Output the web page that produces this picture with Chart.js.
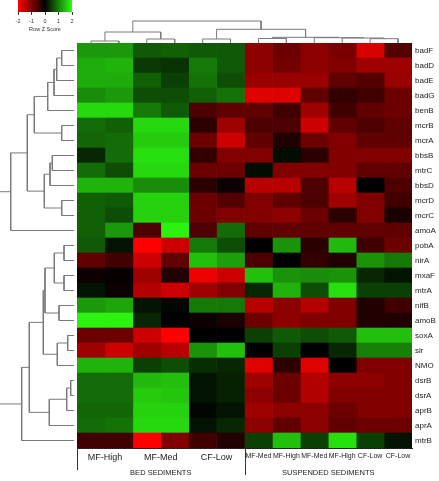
<!DOCTYPE html>
<html><head><meta charset="utf-8">
<script src="https://cdn.jsdelivr.net/npm/chart.js@4"></script>
<style>
html,body{margin:0;padding:0;background:#fff;}
body{width:439px;height:481px;position:relative;overflow:hidden;}
canvas{position:absolute;}
</style></head><body>
<canvas id="key" width="74" height="36" style="left:8px;top:0px"></canvas>
<canvas id="colDen" width="335" height="24" style="left:77px;top:19px"></canvas>
<canvas id="rowDen" width="74" height="405" style="left:0px;top:43px"></canvas>
<canvas id="heat" width="362" height="438" style="left:77px;top:43px"></canvas>
<script>
// ---- data ----
const genes = ['badF','badD','badE','badG','benB','mcrB','mcrA','bbsB','mtrC','bbsD','mcrD','mcrC','amoA',
  'pobA','nirA','mxaF','mtrA','nifB','amoB','soxA','sir','NMO','dsrB','dsrA','aprB','aprA','mtrB'];

// Row Z scores, one array per sample column (rows in gene order)
const bedMFHigh1 = [1.2,1.35,1.35,1.1,1.7,0.85,0.8,0.3,0.85,1.4,0.75,0.75,0.75,0.7,-0.75,-0.1,0.15,1.2,1.9,-0.85,-1.25,1.4,0.85,0.85,0.8,0.85,-0.5];
const bedMFHigh2 = [1.2,1.4,1.35,1.2,1.7,0.75,0.85,0.85,0.6,1.4,0.7,0.6,1.2,0.15,-0.5,-0.05,-0.1,1.3,1.9,-0.85,-1.6,1.4,0.85,0.85,0.8,0.9,-0.5];
const bedMFMed1  = [0.7,0.45,0.75,0.6,0.95,1.7,1.6,1.75,1.7,1.1,1.65,1.65,-0.6,-2.0,-1.6,-1.25,-1.4,0.15,0.3,-1.6,-1.25,0.5,1.45,1.6,1.65,1.7,-2.0];
const bedMFMed2  = [0.75,0.4,0.5,0.6,0.7,1.7,1.6,1.75,1.7,1.1,1.65,1.65,1.9,-1.6,-0.75,-0.25,-1.6,0.05,0,-2.0,-1.45,0.6,1.5,1.55,1.65,1.7,-1.0];
const bedCFLow1  = [0.7,0.95,0.9,0.75,-0.6,-0.35,-0.85,-0.4,-0.85,-0.35,-0.85,-0.85,-0.6,0.95,1.5,-1.85,-1.25,0.95,-0.1,0,1.15,0.35,0.15,0.15,0.05,0.15,-0.5];
const bedCFLow2  = [0.7,0.7,0.6,0.9,-0.75,-1.25,-1.6,-1.0,-0.85,-0.1,-0.65,-1.0,0.85,0.6,1.25,-1.6,-1.0,0.95,-0.2,0,1.5,0.3,0.25,0.25,0.15,0.3,-0.25];
const susMFMed1  = [-1.1,-1.1,-1.2,-1.75,-0.75,-0.6,-0.75,-1.0,0.1,-1.45,-1.0,-1.0,-0.75,0,-0.6,1.5,0.3,-1.45,-0.85,0.5,0,-1.75,-1.25,-1.1,-1.25,-1.1,0.5];
const susMFHigh1 = [-0.85,-0.9,-1.2,-1.75,-0.5,-0.6,-0.25,0.1,-1.0,-1.45,-0.75,-1.1,-0.75,1.15,0,1.15,1.4,-1.1,-1.1,0.7,0.5,-0.35,-0.85,-0.85,-1.1,-0.75,1.5];
const susMFMed2  = [-1.1,-1.1,-1.2,-0.75,-1.25,-1.6,-0.85,-0.35,-1.0,-0.6,-0.6,-0.85,-0.75,-0.35,-0.4,1.1,0.6,-1.4,-1.0,0.6,0,-1.75,-1.4,-1.4,-1.1,-1.1,0.5];
const susMFHigh2 = [-0.95,-1.0,-0.75,-0.4,-0.5,-0.75,-1.0,-1.0,-1.0,-1.45,-1.25,-0.35,-0.75,1.45,-0.25,1.15,1.75,-1.0,-1.0,0.7,0.3,0,-1.1,-1.0,-0.85,-0.75,1.75];
const susCFLow1  = [-1.7,-1.25,-0.65,-0.5,-0.75,-0.6,-0.75,-1.0,-0.75,0,-1.0,-1.0,-0.75,-0.5,1.15,0.3,0.5,-0.25,-0.25,1.5,1.0,-1.0,-1.1,-1.0,-1.0,-0.85,0.5];
const susCFLow2  = [-0.65,-1.25,-1.2,-0.85,-0.85,-0.75,-0.75,-1.0,-0.75,-0.6,-0.5,-0.2,-0.75,-0.85,0.95,0.15,0.5,-0.5,-0.25,1.5,1.0,-1.0,-1.0,-1.0,-1.0,-0.85,0.15];

const columns = [bedMFHigh1,bedMFHigh2,bedMFMed1,bedMFMed2,bedCFLow1,bedCFLow2,
                 susMFMed1,susMFHigh1,susMFMed2,susMFHigh2,susCFLow1,susCFLow2];

// column tick labels (position in column units)
const colTickPos    = [1, 3, 5, 6.5, 7.5, 8.5, 9.5, 10.5, 11.5];
const colTickLabels = ['MF-High','MF-Med','CF-Low','MF-Med','MF-High','MF-Med','MF-High','CF-Low','CF-Low'];
const groupNames  = ['BED SEDIMENTS','SUSPENDED SEDIMENTS'];
const groupStarts = [0, 6];
const groupCenters = [3, 9];

// colour key ticks
const keyTicks = [-2,-1,0,1,2];

// dendrograms: [left, right, height]; negative = leaf (1-based), positive = earlier merge
const rowMerges = [
  [-1,-2,12.3],[1,-3,17.3],[2,-4,20],[3,-5,26.3],[-6,-7,12.3],[4,5,39.7],
  [-8,-9,21.7],[7,-10,24],[-11,-12,12.3],[8,9,29.7],[6,10,46.7],[11,-13,63.3],
  [-14,-15,10],[-16,-17,10],[13,14,19.7],[-18,-19,15],[15,16,29],
  [-20,-21,6.3],[18,-22,16.7],[17,19,30.7],
  [-23,-24,3.3],[21,-25,7.3],[22,-26,24.7],[20,23,44.7],[24,-27,52.3],[12,25,80]
];
const colMerges = [
  [-1,-2,2],[-3,-4,4],[1,2,11],[-5,-6,4],[-7,-8,4.5],[-11,-12,4.3],
  [-10,6,5],[-9,7,5.3],[5,8,5.7],[4,9,13.7],[3,10,22]
];

// ---- helpers ----
function zColor(z){
  const t = Math.min(1, Math.abs(z)/2);
  if (z < 0) return `rgb(${Math.round(255*t)},0,0)`;
  return `rgb(${Math.round(45*t)},${Math.round(255*t)},${Math.round(16*t)})`;
}
function dendroSegments(merges){
  const pos=[], ht=[];
  const get = i => i<0 ? {p:-i-0.5, h:0} : {p:pos[i-1], h:ht[i-1]};
  return merges.map(([a,b,h],k)=>{
    const A=get(a), B=get(b);
    pos[k]=(A.p+B.p)/2; ht[k]=h;
    return [{p:A.p,h:A.h},{p:A.p,h:h},{p:B.p,h:h},{p:B.p,h:B.h}];
  });
}
const FONT = 'Liberation Sans, Arial, sans-serif';
const lineStyle = {showLine:true, borderColor:'#7a7a7a', borderWidth:1, pointRadius:0, fill:false, tension:0};
const baseOpts = {responsive:false, animation:false, layout:{padding:0},
  plugins:{legend:{display:false}, tooltip:{enabled:false}}};

// ---- colour key ----
const gradientPlugin = {id:'grad', beforeDatasetsDraw(chart){
  const {ctx, chartArea:a} = chart;
  const g = ctx.createLinearGradient(a.left,0,a.right,0);
  g.addColorStop(0, zColor(-2)); g.addColorStop(0.5, zColor(0)); g.addColorStop(1, zColor(2));
  ctx.save(); ctx.fillStyle = g; ctx.fillRect(a.left, a.top, a.right-a.left, a.bottom-a.top); ctx.restore();
}};
new Chart(document.getElementById('key'), {
  type:'scatter', data:{datasets:[{data:[]}]},
  options:{...baseOpts, layout:{padding:{left:10,right:10,top:0,bottom:0}},
    scales:{
      x:{type:'linear', min:-2, max:2, position:'bottom',
        grid:{drawOnChartArea:false, drawTicks:true, tickLength:3, color:'#333'},
        border:{display:false},
        afterBuildTicks:s=>{s.ticks = keyTicks.map(v=>({value:v}));},
        ticks:{padding:3, color:'#333', font:{size:5.5, family:FONT}},
        title:{display:true, text:'Row Z Score', color:'#333', font:{size:5.5, family:FONT}, padding:{top:1,bottom:3}},
        afterFit:s=>{s.height=24; s.paddingLeft=0; s.paddingRight=0;}},
      y:{display:false, min:0, max:1}
    }},
  plugins:[gradientPlugin]
});

// ---- column dendrogram ----
new Chart(document.getElementById('colDen'), {
  type:'scatter',
  data:{datasets: dendroSegments(colMerges).map(seg=>({...lineStyle, data: seg.map(q=>({x:q.p, y:q.h}))}))},
  options:{...baseOpts, scales:{x:{display:false, min:0, max:12}, y:{display:false, min:0, max:24}}}
});

// ---- row dendrogram ----
new Chart(document.getElementById('rowDen'), {
  type:'scatter',
  data:{datasets: dendroSegments(rowMerges).map(seg=>({...lineStyle, data: seg.map(q=>({x:q.h, y:q.p}))}))},
  options:{...baseOpts, scales:{x:{display:false, min:0, max:74, reverse:true}, y:{display:false, min:0, max:27, reverse:true}}}
});

// ---- heatmap ----
const groupPlugin = {id:'groups', afterDraw(chart){
  const {ctx, chartArea:a, scales:{x}} = chart;
  ctx.save();
  ctx.strokeStyle = '#333'; ctx.lineWidth = 1;
  const lens = [22, 27];
  groupStarts.forEach((v,i)=>{
    const px = Math.round(x.getPixelForValue(v)) + 0.5;
    ctx.beginPath(); ctx.moveTo(px, a.bottom); ctx.lineTo(px, a.bottom + lens[i]); ctx.stroke();
  });
  ctx.fillStyle = '#222'; ctx.font = `7.5px ${FONT}`; ctx.textAlign = 'center'; ctx.textBaseline = 'middle';
  groupCenters.forEach((v,i)=> ctx.fillText(groupNames[i], x.getPixelForValue(v), a.bottom + 25));
  ctx.restore();
}};
new Chart(document.getElementById('heat'), {
  type:'bar',
  data:{labels: genes,
    datasets: columns.map((vals,i)=>({
      data: vals.map(()=>1), backgroundColor: vals.map(zColor),
      borderWidth:0, barPercentage:1, categoryPercentage:1, stack:'s'}))},
  options:{...baseOpts, indexAxis:'y',
    scales:{
      x:{type:'linear', stacked:true, min:0, max:12, position:'bottom',
        grid:{display:false, drawTicks:false}, border:{display:true, color:'#222', width:1},
        afterBuildTicks:s=>{s.ticks = colTickPos.map(v=>({value:v}));},
        ticks:{autoSkip:false, maxRotation:0, padding:4, color:'#222',
          font:c=>({size: c.index<3 ? 9 : 7, family:FONT}),
          callback:(v,i)=>colTickLabels[i]},
        afterFit:s=>{s.height=33; s.paddingLeft=0; s.paddingRight=0;}},
      y:{type:'category', stacked:true, position:'right',
        grid:{display:false, drawTicks:false}, border:{display:false},
        ticks:{autoSkip:false, padding:3, color:'#222', font:{size:8, family:FONT}},
        afterFit:s=>{s.width=27; s.paddingTop=0; s.paddingBottom=0;}}
    }},
  plugins:[groupPlugin]
});
</script>
</body></html>
